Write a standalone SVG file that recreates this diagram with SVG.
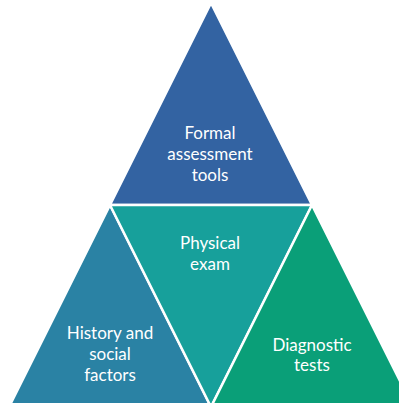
<svg xmlns="http://www.w3.org/2000/svg" width="399" height="403" viewBox="0 0 399 403">
<style>
.tri{stroke:#ffffff;stroke-width:2.5;stroke-linejoin:miter}
.lbl{font-family:Lato,"Open Sans","Liberation Sans",sans-serif;font-size:17px;fill:#ffffff;text-anchor:middle}
</style>
<rect width="399" height="403" fill="#ffffff"/>
<g id="top">
<polygon class="tri" points="211,3 312,205 110,205" fill="#3363A2"/>
<text class="lbl" x="210" y="139">Formal</text>
<text class="lbl" x="210" y="160">assessment</text>
<text class="lbl" x="210" y="181">tools</text>
</g>
<g id="left">
<polygon class="tri" points="110,205 211,407 9,407" fill="#2A82A4"/>
<text class="lbl" x="110" y="339">History and</text>
<text class="lbl" x="110" y="360">social</text>
<text class="lbl" x="110" y="381">factors</text>
</g>
<g id="middle">
<polygon class="tri" points="110,205 312,205 211,407" fill="#17A09B"/>
<text class="lbl" x="210" y="249">Physical</text>
<text class="lbl" x="210" y="270">exam</text>
</g>
<g id="right">
<polygon class="tri" points="312,205 413,407 211,407" fill="#0A9F78"/>
<text class="lbl" x="312" y="351">Diagnostic</text>
<text class="lbl" x="312" y="371">tests</text>
</g>
<g id="connectors"></g>
</svg>
